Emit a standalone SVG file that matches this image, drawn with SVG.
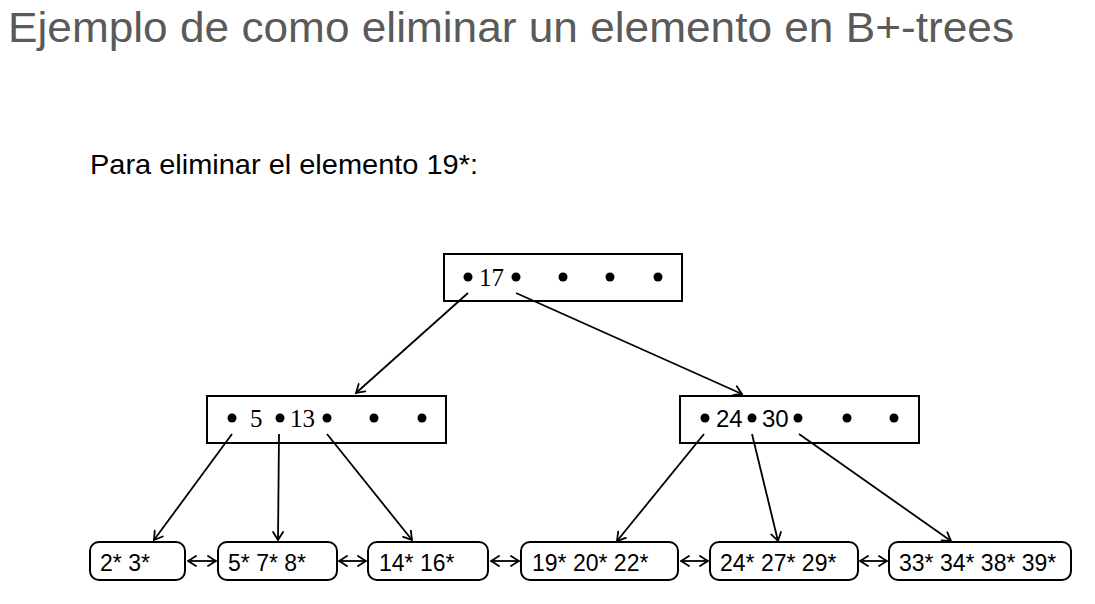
<svg xmlns="http://www.w3.org/2000/svg" width="1095" height="604" viewBox="0 0 1095 604">
<defs>
<marker id="ah" viewBox="-10 -6 11 12" markerWidth="11" markerHeight="12" refX="0" refY="0" orient="auto-start-reverse" markerUnits="userSpaceOnUse">
<path d="M -8 -5 Q -2 -1.2 0 0 Q -2 1.2 -8 5" fill="none" stroke="#000" stroke-width="1.8" stroke-linecap="round"/>
</marker>
<style>
.box{fill:#fff;stroke:#000;stroke-width:2}
.leaf{fill:#fff;stroke:#000;stroke-width:2}
.dot{fill:#000}
.ser{font-family:"Liberation Serif",serif;font-size:25px;fill:#000}
.san{font-family:"Liberation Sans",sans-serif;font-size:24px;fill:#000}
.lt{font-family:"Liberation Sans",sans-serif;font-size:23px;fill:#000}
.con{stroke:#000;stroke-width:1.8;fill:none;marker-end:url(#ah)}
.dbl{stroke:#000;stroke-width:1.8;fill:none;marker-end:url(#ah);marker-start:url(#ah)}
</style>
</defs>
<rect width="1095" height="604" fill="#fff"/>
<text x="8" y="42" font-family="Liberation Sans, sans-serif" font-size="43" fill="#5a5a5a" textLength="1006" lengthAdjust="spacingAndGlyphs">Ejemplo de como eliminar un elemento en B+-trees</text>
<text x="90" y="174" font-family="Liberation Sans, sans-serif" font-size="28" fill="#000" textLength="388" lengthAdjust="spacingAndGlyphs">Para eliminar el elemento 19*:</text>

<g id="root">
<rect class="box" x="444" y="254" width="238" height="47"/>
<circle class="dot" cx="468" cy="277" r="4.5"/>
<text class="ser" x="479" y="286">17</text>
<circle class="dot" cx="516" cy="277" r="4.5"/>
<circle class="dot" cx="563" cy="277" r="4.5"/>
<circle class="dot" cx="610" cy="277" r="4.5"/>
<circle class="dot" cx="658" cy="277" r="4.5"/>
</g>

<g id="inner-left">
<rect class="box" x="207" y="396" width="239" height="47"/>
<circle class="dot" cx="232" cy="418" r="4.5"/>
<text class="ser" x="250" y="427">5</text>
<circle class="dot" cx="280" cy="418" r="4.5"/>
<text class="ser" x="290" y="427">13</text>
<circle class="dot" cx="327" cy="418" r="4.5"/>
<circle class="dot" cx="374" cy="418" r="4.5"/>
<circle class="dot" cx="422" cy="418" r="4.5"/>
</g>

<g id="inner-right">
<rect class="box" x="680" y="396" width="239" height="47"/>
<circle class="dot" cx="705" cy="418" r="4.5"/>
<text class="san" x="716" y="427">24</text>
<circle class="dot" cx="752" cy="418" r="4.5"/>
<text class="san" x="762" y="427">30</text>
<circle class="dot" cx="798" cy="418" r="4.5"/>
<circle class="dot" cx="847" cy="418" r="4.5"/>
<circle class="dot" cx="894" cy="418" r="4.5"/>
</g>

<g id="leaf1">
<rect class="leaf" x="90" y="542" width="95" height="38" rx="9"/>
<text class="lt" x="100" y="571">2* 3*</text>
</g>
<g id="leaf2">
<rect class="leaf" x="218" y="542" width="119" height="38" rx="9"/>
<text class="lt" x="228" y="571">5* 7* 8*</text>
</g>
<g id="leaf3">
<rect class="leaf" x="368" y="542" width="120" height="38" rx="9"/>
<text class="lt" x="379" y="571">14* 16*</text>
</g>
<g id="leaf4">
<rect class="leaf" x="521" y="542" width="157" height="38" rx="9"/>
<text class="lt" x="532" y="571">19* 20* 22*</text>
</g>
<g id="leaf5">
<rect class="leaf" x="710" y="542" width="148" height="38" rx="9"/>
<text class="lt" x="720" y="571">24* 27* 29*</text>
</g>
<g id="leaf6">
<rect class="leaf" x="889" y="542" width="182" height="38" rx="9"/>
<text class="lt" x="899" y="571">33* 34* 38* 39*</text>
</g>

<g id="connectors">
<line class="con" x1="468" y1="293" x2="356" y2="393"/>
<line class="con" x1="516" y1="293" x2="742" y2="394"/>
<line class="con" x1="232" y1="434" x2="154" y2="540"/>
<line class="con" x1="279" y1="434" x2="278" y2="540"/>
<line class="con" x1="327" y1="434" x2="412" y2="540"/>
<line class="con" x1="704" y1="434" x2="617" y2="541"/>
<line class="con" x1="752" y1="434" x2="778" y2="541"/>
<line class="con" x1="799" y1="434" x2="951" y2="541"/>
<line class="dbl" x1="188" y1="561" x2="216" y2="561"/>
<line class="dbl" x1="339" y1="561" x2="366" y2="561"/>
<line class="dbl" x1="491" y1="561" x2="519" y2="561"/>
<line class="dbl" x1="681" y1="561" x2="708" y2="561"/>
<line class="dbl" x1="860" y1="561" x2="887" y2="561"/>
</g>
</svg>
